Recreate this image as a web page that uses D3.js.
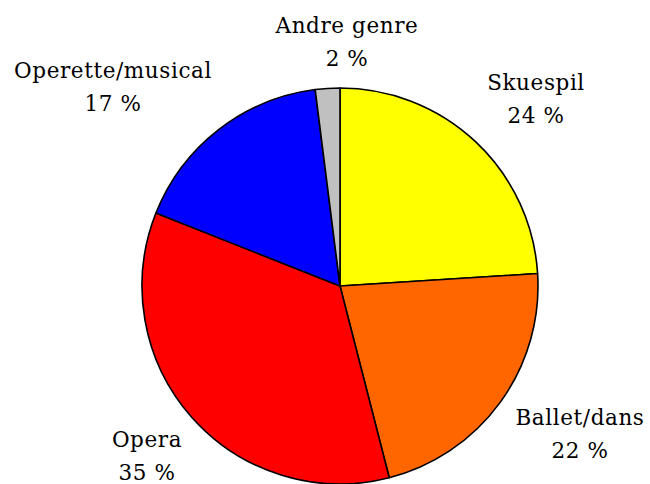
<!DOCTYPE html>
<html>
<head>
<meta charset="utf-8">
<script src="https://cdn.jsdelivr.net/npm/d3@7"></script>
<style>
  html, body { margin: 0; padding: 0; background: #fff; }
  svg text { font-family: "DejaVu Serif", serif; font-size: 21.5px; letter-spacing: 0.6px; fill: #000; }
</style>
</head>
<body>
<svg id="chart" width="650" height="484"></svg>
<script>
// Data
const categories = ["Skuespil", "Ballet/dans", "Opera", "Operette/musical", "Andre genre"];
const shares = [24, 22, 35, 17, 2];
const colors = ["#ffff00", "#ff6600", "#ff0000", "#0000ff", "#c0c0c0"];

// Layout
const width = 650, height = 484;
const cx = 340, cy = 286, radius = 198;
// label centre (x, baseline of first line)
const labelPos = [[536, 90], [580, 425], [147, 447], [113, 78], [347, 33]];
const lineGap = 33;

const svg = d3.select("#chart");

const pie = d3.pie().sort(null).value(d => d)(shares);
const arc = d3.arc().innerRadius(0).outerRadius(radius);

const g = svg.append("g").attr("transform", `translate(${cx},${cy})`);

g.selectAll("path")
    .data(pie)
    .join("path")
    .attr("d", arc)
    .attr("fill", (d, i) => colors[i])
    .attr("stroke", "#000")
    .attr("stroke-width", 1.6)
    .attr("stroke-linejoin", "round");

// Labels
const labels = svg.selectAll("g.label")
    .data(pie)
    .join("g")
    .attr("class", "label");

labels.append("text")
    .attr("x", (d, i) => labelPos[i][0])
    .attr("y", (d, i) => labelPos[i][1])
    .attr("text-anchor", "middle")
    .text((d, i) => categories[i]);

labels.append("text")
    .attr("x", (d, i) => labelPos[i][0])
    .attr("y", (d, i) => labelPos[i][1] + lineGap)
    .attr("text-anchor", "middle")
    .text(d => d.data + " %");
</script>
</body>
</html>
